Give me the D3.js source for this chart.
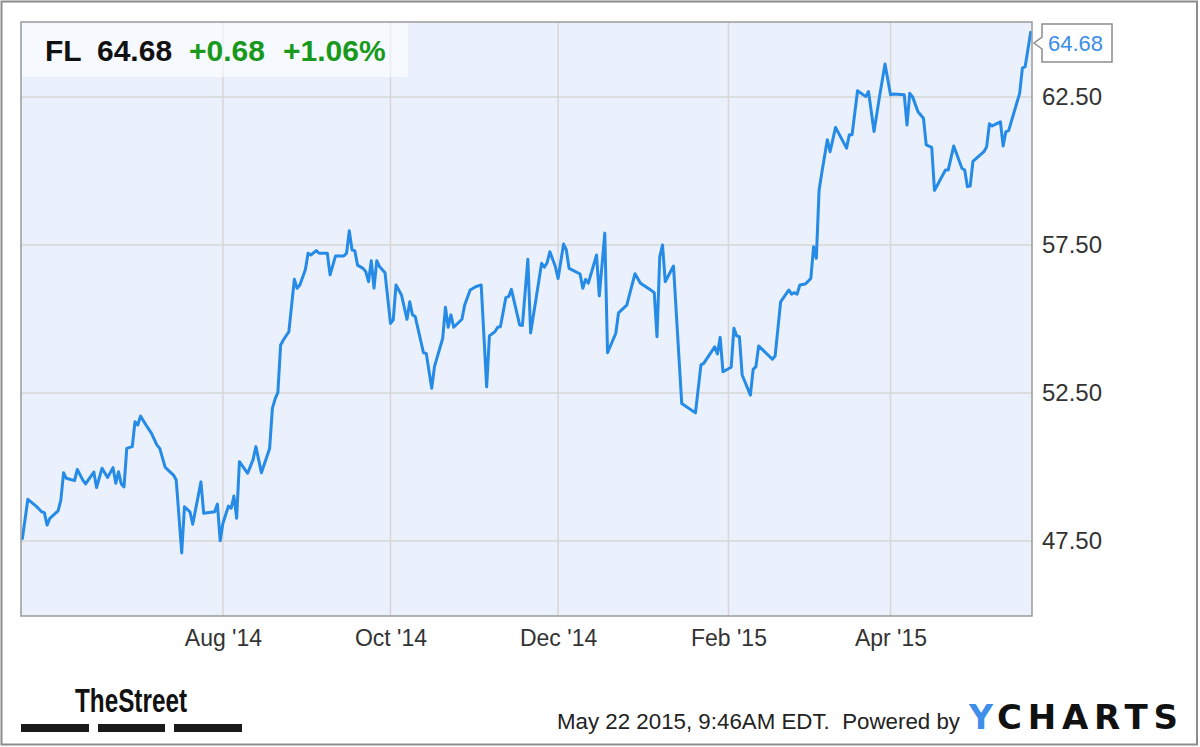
<!DOCTYPE html>
<html>
<head>
<meta charset="utf-8">
<script src="https://cdn.jsdelivr.net/npm/d3@7"></script>
<style>
  html, body { margin: 0; padding: 0; background: #fff; }
  svg { display: block; font-family: "Liberation Sans", Arial, sans-serif; }
</style>
</head>
<body>
<svg id="chart" width="1200" height="747"></svg>
<script>
// ---- Data ----
const dates = [
"2014-05-20","2014-05-22","2014-05-25","2014-05-27","2014-05-28","2014-05-29","2014-05-30","2014-06-02","2014-06-03","2014-06-04",
"2014-06-05","2014-06-08","2014-06-09","2014-06-11","2014-06-12","2014-06-15","2014-06-16","2014-06-18","2014-06-20","2014-06-22",
"2014-06-23","2014-06-24","2014-06-25","2014-06-26","2014-06-27","2014-06-29","2014-06-30","2014-07-01","2014-07-02","2014-07-04",
"2014-07-06","2014-07-08","2014-07-09","2014-07-11","2014-07-14","2014-07-15","2014-07-17","2014-07-18","2014-07-20","2014-07-21",
"2014-07-24","2014-07-25","2014-07-29","2014-07-30","2014-07-31","2014-08-01","2014-08-03","2014-08-04","2014-08-05","2014-08-06",
"2014-08-07","2014-08-10","2014-08-12","2014-08-13","2014-08-15","2014-08-18","2014-08-19","2014-08-20","2014-08-21","2014-08-22",
"2014-08-23","2014-08-25","2014-08-27","2014-08-28","2014-08-29","2014-08-31","2014-09-01","2014-09-02","2014-09-04","2014-09-05",
"2014-09-08","2014-09-09","2014-09-11","2014-09-14","2014-09-15","2014-09-16","2014-09-17","2014-09-18","2014-09-19","2014-09-21",
"2014-09-22","2014-09-23","2014-09-24","2014-09-25","2014-09-26","2014-09-27","2014-09-29","2014-10-01","2014-10-02","2014-10-03",
"2014-10-05","2014-10-07","2014-10-08","2014-10-09","2014-10-10","2014-10-13","2014-10-14","2014-10-16","2014-10-17","2014-10-20",
"2014-10-21","2014-10-22","2014-10-23","2014-10-24","2014-10-27","2014-10-28","2014-10-30","2014-11-01","2014-11-03","2014-11-05",
"2014-11-06","2014-11-08","2014-11-09","2014-11-10","2014-11-12","2014-11-13","2014-11-14","2014-11-17","2014-11-18","2014-11-20",
"2014-11-21","2014-11-23","2014-11-25","2014-11-26","2014-11-27","2014-11-28","2014-11-30","2014-12-01","2014-12-03","2014-12-04",
"2014-12-05","2014-12-09","2014-12-10","2014-12-11","2014-12-12","2014-12-15","2014-12-16","2014-12-18","2014-12-19","2014-12-22",
"2014-12-23","2014-12-26","2014-12-29","2014-12-31","2015-01-04","2015-01-05","2015-01-06","2015-01-07","2015-01-08","2015-01-09",
"2015-01-12","2015-01-15","2015-01-20","2015-01-22","2015-01-23","2015-01-27","2015-01-28","2015-01-29","2015-01-30","2015-02-02",
"2015-02-03","2015-02-04","2015-02-05","2015-02-06","2015-02-09","2015-02-10","2015-02-11","2015-02-12","2015-02-17","2015-02-18",
"2015-02-20","2015-02-23","2015-02-24","2015-02-25","2015-02-26","2015-02-27","2015-03-01","2015-03-03","2015-03-04","2015-03-05",
"2015-03-06","2015-03-07","2015-03-09","2015-03-10","2015-03-12","2015-03-16","2015-03-17","2015-03-18","2015-03-20","2015-03-23",
"2015-03-24","2015-03-26","2015-03-28","2015-03-30","2015-04-01","2015-04-02","2015-04-06","2015-04-07","2015-04-08","2015-04-09",
"2015-04-11","2015-04-13","2015-04-14","2015-04-16","2015-04-17","2015-04-21","2015-04-22","2015-04-24","2015-04-27","2015-04-28",
"2015-04-29","2015-04-30","2015-05-01","2015-05-05","2015-05-06","2015-05-07","2015-05-08","2015-05-11","2015-05-12","2015-05-13",
"2015-05-14","2015-05-18","2015-05-19","2015-05-20","2015-05-21","2015-05-22"
];
const prices = [
47.59,48.91,48.68,48.49,48.46,48.04,48.27,48.52,48.88,49.81,
49.62,49.54,49.92,49.56,49.43,49.83,49.31,49.96,49.65,49.98,
49.45,49.84,49.43,49.33,50.63,50.69,51.53,51.42,51.72,51.42,
51.14,50.74,50.63,49.99,49.73,49.56,47.10,48.66,48.49,48.07,
49.50,48.44,48.49,48.75,47.51,48.10,48.68,48.61,49.02,48.27,
50.18,49.79,50.26,50.69,49.81,50.63,51.98,52.30,52.52,54.12,
54.29,54.57,56.34,56.04,56.15,56.66,57.22,57.16,57.31,57.22,
57.22,56.49,57.13,57.13,57.22,57.98,57.33,57.31,56.82,56.71,
56.60,56.26,56.97,56.04,56.97,56.77,56.56,54.85,54.97,56.15,
55.81,54.99,55.58,55.14,55.08,53.86,53.84,52.66,53.39,54.35,
55.40,54.72,55.14,54.72,54.99,55.47,55.98,56.09,56.15,52.71,
54.43,54.57,54.72,54.74,55.73,55.75,56.00,54.80,54.78,57.02,
54.53,55.70,56.88,56.75,56.90,57.27,56.77,56.37,57.53,57.33,
56.71,56.52,56.04,56.34,56.21,57.16,55.78,57.90,53.86,54.52,
55.21,55.47,56.53,56.21,55.96,55.89,54.40,57.10,57.50,56.26,
56.79,52.15,51.83,53.45,53.50,54.06,53.82,54.38,53.22,53.37,
54.69,54.43,54.40,53.11,52.43,53.30,53.39,54.09,53.64,53.75,
55.58,55.98,55.84,55.89,55.84,56.15,56.18,56.37,57.44,57.05,
59.36,59.94,61.05,60.65,61.47,60.77,61.22,61.22,62.71,62.51,
62.68,61.33,62.51,63.61,62.57,62.60,62.57,61.55,62.62,62.51,
62.00,61.78,60.88,60.80,59.34,60.03,60.03,60.84,60.09,60.03,
59.47,59.49,60.32,60.65,60.82,61.59,61.52,61.66,60.84,61.33,
61.36,62.62,63.47,63.52,64.09,64.68
];
const xTickDates = ["2014-08-01","2014-10-01","2014-12-01","2015-02-01","2015-04-01"];
const yTickValues = [47.5, 52.5, 57.5, 62.5];
const ticker = "FL";
const lastPrice = "64.68";
const change = "+0.68";
const changePct = "+1.06%";
const footerText = "May 22 2015, 9:46AM EDT.  Powered by";

// ---- Layout ----
const parse = d3.timeParse("%Y-%m-%d");
const data = dates.map((d, i) => ({ date: parse(d), value: prices[i] }));
const plot = { left: 21, top: 22, right: 1032, bottom: 616 };

const svg = d3.select("#chart");

// outer frame
svg.append("rect").attr("x", 1.5).attr("y", 1.5).attr("width", 1195.5).attr("height", 743)
  .attr("fill", "#fff").attr("stroke", "#8c8c8c").attr("stroke-width", 2);

const x = d3.scaleTime()
  .domain([new Date(2014, 4, 19, 12), new Date(2015, 4, 22, 12)])
  .range([plot.left, plot.right]);
const y = d3.scaleLinear().domain([44.97, 65.03]).range([plot.bottom, plot.top]);

// plot background
svg.append("rect").attr("x", plot.left).attr("y", plot.top)
  .attr("width", plot.right - plot.left).attr("height", plot.bottom - plot.top)
  .attr("fill", "#eaf1fc");

// grid
const grid = svg.append("g").attr("stroke", "#d6d6d6").attr("stroke-width", 1.5);
grid.selectAll("line.h").data(yTickValues).join("line").attr("class", "h")
  .attr("x1", plot.left).attr("x2", plot.right)
  .attr("y1", d => y(d)).attr("y2", d => y(d));
grid.selectAll("line.v").data(xTickDates.map(parse)).join("line").attr("class", "v")
  .attr("x1", d => x(d)).attr("x2", d => x(d))
  .attr("y1", plot.top).attr("y2", plot.bottom);

// title box
svg.append("rect").attr("x", plot.left + 1).attr("y", plot.top + 1).attr("width", 386).attr("height", 54)
  .attr("fill", "#fff").attr("opacity", 0.55);

// clip
svg.append("clipPath").attr("id", "clip").append("rect")
  .attr("x", plot.left).attr("y", plot.top - 2)
  .attr("width", plot.right - plot.left).attr("height", plot.bottom - plot.top + 2);

// line
const line = d3.line().x(d => x(d.date)).y(d => y(d.value));
svg.append("path").datum(data)
  .attr("clip-path", "url(#clip)")
  .attr("fill", "none").attr("stroke", "#258be7").attr("stroke-width", 3)
  .attr("stroke-linejoin", "round").attr("stroke-linecap", "round")
  .attr("d", line);

// plot frame
svg.append("rect").attr("x", plot.left).attr("y", plot.top)
  .attr("width", plot.right - plot.left).attr("height", plot.bottom - plot.top)
  .attr("fill", "none").attr("stroke", "#9a9a9a").attr("stroke-width", 1.5);

// x axis
const xAxis = svg.append("g").attr("transform", `translate(0,${plot.bottom})`)
  .call(d3.axisBottom(x).tickValues(xTickDates.map(parse))
    .tickFormat(d3.timeFormat("%b '%y")).tickSize(0).tickPadding(14));
xAxis.select(".domain").remove();
xAxis.selectAll("text").attr("font-size", 23).attr("fill", "#333")
  .attr("font-family", "'Liberation Sans', Arial, sans-serif");

// y axis
const yAxis = svg.append("g").attr("transform", `translate(${plot.right},0)`)
  .call(d3.axisRight(y).tickValues(yTickValues).tickFormat(d3.format(".2f")).tickSize(0).tickPadding(10));
yAxis.select(".domain").remove();
yAxis.selectAll("text").attr("font-size", 24).attr("fill", "#333")
  .attr("font-family", "'Liberation Sans', Arial, sans-serif");

// title texts
const title = svg.append("g").attr("font-weight", "bold").attr("font-size", 30);
title.append("text").attr("x", 45).attr("y", 61).attr("fill", "#111").text(ticker);
title.append("text").attr("x", 97).attr("y", 61).attr("fill", "#111").text(lastPrice);
title.append("text").attr("x", 189).attr("y", 61).attr("fill", "#18991c").text(change);
title.append("text").attr("x", 283).attr("y", 61).attr("fill", "#18991c").text(changePct);

// last price label
const last = data[data.length - 1];
const cy = Math.max(y(last.value), plot.top + 21);
const bx = plot.right + 10;
const lbl = svg.append("g");
lbl.append("path")
  .attr("d", `M${bx},${cy - 19} L${bx + 70},${cy - 19} L${bx + 70},${cy + 19} L${bx},${cy + 19} L${bx},${cy + 6} L${plot.right + 2},${cy} L${bx},${cy - 6} Z`)
  .attr("fill", "#fff").attr("stroke", "#8c8c8c").attr("stroke-width", 1.5);
lbl.append("text").attr("x", bx + 6).attr("y", cy + 8).attr("font-size", 22)
  .attr("fill", "#3a8ee8").text(lastPrice);

// TheStreet logo
svg.append("text").attr("x", 75).attr("y", 712)
  .attr("font-family", "'Liberation Sans Narrow', 'Liberation Sans', Arial, sans-serif")
  .attr("font-weight", "bold").attr("font-size", 33).attr("fill", "#111")
  .attr("textLength", 112).attr("lengthAdjust", "spacingAndGlyphs")
  .text("TheStreet");
const barsX = [[21, 89], [98, 165], [174, 242]];
svg.append("g").selectAll("rect").data(barsX).join("rect")
  .attr("x", d => d[0]).attr("y", 724).attr("width", d => d[1] - d[0]).attr("height", 8)
  .attr("fill", "#1a1a1a");

// footer
svg.append("text").attr("x", 557).attr("y", 729).attr("font-size", 22).attr("fill", "#222")
  .style("white-space", "pre")
  .attr("textLength", 403).attr("lengthAdjust", "spacingAndGlyphs")
  .text(footerText);
svg.append("text").attr("x", 969).attr("y", 729)
  .attr("font-family", "'DejaVu Sans', sans-serif").attr("font-weight", "bold")
  .attr("font-size", 34).attr("fill", "#3f8ee9")
  .attr("textLength", 24).attr("lengthAdjust", "spacingAndGlyphs").text("Y");
svg.append("text").attr("x", 997).attr("y", 729)
  .attr("font-family", "'DejaVu Sans', sans-serif").attr("font-weight", "bold")
  .attr("font-size", 34).attr("fill", "#111")
  .attr("textLength", 181).attr("lengthAdjust", "spacing").text("CHARTS");
</script>
</body>
</html>
